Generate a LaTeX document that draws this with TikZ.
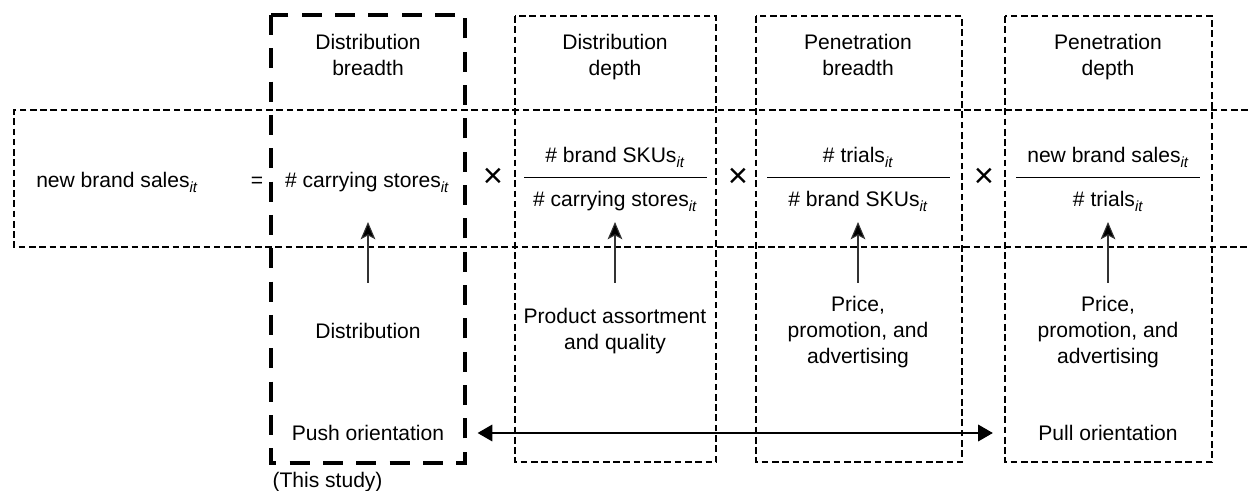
\documentclass[tikz,border=0pt]{standalone}
\usepackage{fontspec}
\setmainfont{Liberation Sans}
\usetikzlibrary{arrows.meta}

\newcommand{\brandidx}{\textsubscript{\itshape it}}

\tikzset{every picture/.style={line width=0.75pt}}
\tikzset{
  txt/.style={inner sep=0.75pt, align=center, font=\fontsize{15.8}{19.5}\selectfont},
  timessign/.style={inner sep=0pt, font=\fontsize{26}{26}\selectfont},
  thinbox/.style={line width=1.4pt, dash pattern=on 5pt off 2.7pt},
  thickbox/.style={line width=3pt, dash pattern=on 15pt off 10pt},
  uparrow/.style={line width=0.8pt, draw=black!80, -{Stealth[length=13pt,width=11pt,inset=3pt,fill=black]}},
  orient/.style={line width=0.9pt, {Triangle[length=11pt,width=12.5pt]}-{Triangle[length=11pt,width=12.5pt]}},
}

\begin{document}
\begin{tikzpicture}[x=0.75pt,y=0.75pt,yscale=-1,xscale=1]
\useasboundingbox (0,0) rectangle (1248,491);

%Shape: Band [id:band]
\draw [thinbox] (1248,110) -- (14,110) -- (14,247) -- (1248,247) ;
%Shape: Rectangle [id:studybox]
\draw [thickbox] (271,15) rectangle (465,463) ;
%Shape: Rectangle [id:box2]
\draw [thinbox] (515,16) rectangle (716,462) ;
%Shape: Rectangle [id:box3]
\draw [thinbox] (756,16) rectangle (962,462) ;
%Shape: Rectangle [id:box4]
\draw [thinbox] (1005,16) rectangle (1212,462) ;

% Text Node
\node [txt] (distbreadth) at (368,55) {Distribution\\breadth};
% Text Node
\node [txt] (distdepth) at (615,57) {Distribution\\depth};
% Text Node
\node [txt] (penbreadth) at (858,55) {Penetration\\breadth};
% Text Node
\node [txt] (pendepth) at (1108,57) {Penetration\\depth};

% Text Node
\node [txt, anchor=base] (sales) at (117,188) {new brand sales\brandidx};
% Text Node
\node [txt, anchor=base] (equals) at (257,188) {=};
% Text Node
\node [txt, anchor=base] (stores) at (367,188) {\# carrying stores\brandidx};
% Text Node
\node [timessign] (times1) at (493,178) {×};
% Text Node
\node [txt, anchor=base] (skus) at (615,163) {\# brand SKUs\brandidx};
% Text Node
\node [txt, anchor=base] (storesden) at (615,207) {\# carrying stores\brandidx};
% Text Node
\node [timessign] (times2) at (738,178) {×};
% Text Node
\node [txt, anchor=base] (trials) at (858,163) {\# trials\brandidx};
% Text Node
\node [txt, anchor=base] (skusden) at (858,207) {\# brand SKUs\brandidx};
% Text Node
\node [timessign] (times3) at (984,178) {×};
% Text Node
\node [txt, anchor=base] (salesnum) at (1108,163) {new brand sales\brandidx};
% Text Node
\node [txt, anchor=base] (trialsden) at (1108,207) {\# trials\brandidx};

%Straight Lines [id:fraction rules]
\draw (524,178) -- (707,178) ;
\draw (767,178) -- (950,178) ;
\draw (1016,178) -- (1200,178) ;

% Text Node
\node [txt] (distribution) at (368,331) {Distribution};
% Text Node
\node [txt] (assortment) at (615,331) {Product assortment\\and quality};
% Text Node
\node [txt] (pricea) at (858,332) {Price,\\promotion, and\\advertising};
% Text Node
\node [txt] (priceb) at (1108,332) {Price,\\promotion, and\\advertising};

%Straight Lines [id:drivers]
\coordinate (foot1) at (368,283);
\coordinate (head1) at (368,222);
\draw [uparrow] (foot1) -- (head1) ;
\coordinate (foot2) at (615,283);
\coordinate (head2) at (615,222);
\draw [uparrow] (foot2) -- (head2) ;
\coordinate (foot3) at (858,283);
\coordinate (head3) at (858,222);
\draw [uparrow] (foot3) -- (head3) ;
\coordinate (foot4) at (1108,283);
\coordinate (head4) at (1108,222);
\draw [uparrow] (foot4) -- (head4) ;

% Text Node
\node [txt] (push) at (368,433) {Push orientation};
% Text Node
\node [txt] (pull) at (1108,433) {Pull orientation};
%Straight Lines [id:orientation]
\draw [orient, shorten <=24pt, shorten >=33pt] (push.east) -- (pull.west) ;

% Text Node
\node [txt, anchor=base west] (thisstudy) at (271,487) {(This study)};

\end{tikzpicture}
\end{document}
